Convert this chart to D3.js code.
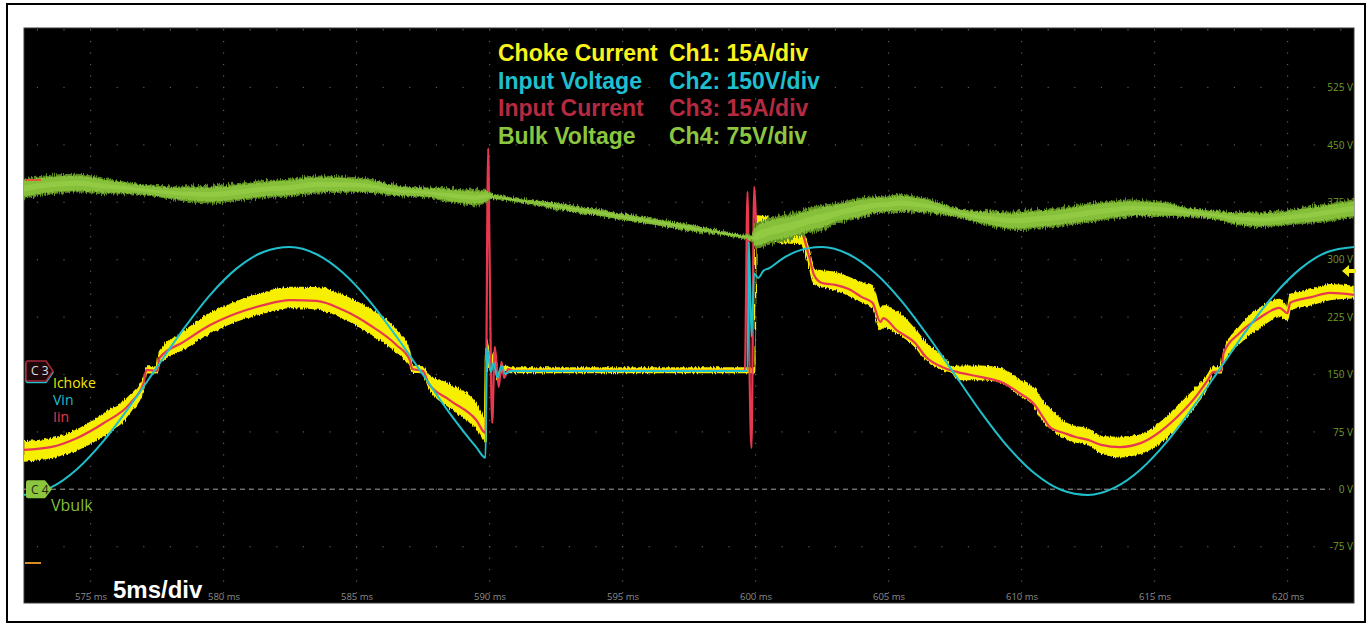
<!DOCTYPE html>
<html>
<head>
<meta charset="utf-8">
<script src="https://cdn.jsdelivr.net/npm/d3@7"></script>
<style>
  html, body { margin: 0; padding: 0; background: #fff; }
  svg { display: block; }
</style>
</head>
<body>
<svg id="scope" width="1370" height="625"></svg>
<script>
// axis ticks
const timeTicks = [575, 580, 585, 590, 595, 600, 605, 610, 615, 620];
const voltTicks = [525, 450, 375, 300, 225, 150, 75, 0, -75];

// legend
const legendNames = ['Choke Current', 'Input Voltage', 'Input Current', 'Bulk Voltage'];
const legendScales = ['Ch1: 15A/div', 'Ch2: 150V/div', 'Ch3: 15A/div', 'Ch4: 75V/div'];
const traceLabels = ['Ichoke', 'Vin', 'Iin'];

// channel scale (units/div) and zero position (div above the Ch4 0 V line)
const chPerDiv = [15, 150, 15, 75];
const chOffset = [2.06, 2.06, 2.06, 0];

// Ch1 choke current: band middle and ripple (A, peak to peak)
const chokeT = [572.5, 573.5, 574.5, 575.5, 576.5, 577.0, 577.1, 577.5, 577.6, 578.5, 579.5, 580.5, 581.5, 582.5, 583.5, 584.5, 585.5, 586.5, 587.0, 587.1, 587.5, 587.7, 588.5, 589.5, 589.85, 589.9, 590.05, 590.15, 590.3, 590.5, 590.8, 599.98, 600.02, 601.0, 601.7, 602.0, 602.2, 603.0, 604.0, 604.4, 604.7, 604.8, 605.3, 606.0, 606.4, 607.1, 607.4, 607.6, 608.5, 609.3, 609.9, 610.5, 610.8, 611.1, 611.6, 612.0, 612.5, 613.0, 613.7, 614.5, 615.2, 616.0, 616.6, 617.0, 617.2, 617.5, 617.6, 618.2, 619.0, 619.7, 620.0, 620.1, 620.9, 621.6, 622.5];
const chokeMid = [-21.0, -20.2, -18.0, -14.0, -8.6, -3.3, 0.3, 0.3, 3.6, 8.0, 12.5, 15.6, 17.8, 19.2, 19.0, 16.8, 13.0, 7.8, 3.3, 0.5, 0.3, -2.5, -6.5, -11.8, -15.5, 7.3, 0.5, 4.0, -1.5, 0.8, 0.2, 0.2, 37.5, 36.3, 35.0, 30.0, 24.6, 23.5, 20.6, 19.5, 13.5, 14.3, 12.8, 8.6, 5.2, 1.8, 0.3, -0.5, -0.5, -1.3, -4.2, -7.1, -10.5, -12.5, -15.4, -16.5, -17.2, -19.3, -19.9, -19.1, -16.2, -11.0, -6.3, -2.6, 0.3, 0.3, 3.7, 9.4, 14.1, 16.5, 15.1, 18.0, 19.3, 20.6, 20.6];
const chokeRip = [5.0, 4.8, 5.2, 5.5, 4.5, 3.0, 1.5, 1.5, 3.0, 4.5, 5.0, 5.0, 5.2, 5.2, 5.5, 5.8, 6.2, 5.5, 3.5, 1.5, 1.5, 3.0, 6.0, 6.5, 6.0, 2.0, 1.5, 1.5, 1.5, 1.2, 1.2, 1.2, 6.0, 5.5, 3.5, 4.0, 3.9, 4.4, 5.0, 5.5, 5.5, 5.5, 5.5, 4.4, 4.4, 3.1, 1.5, 3.4, 3.4, 3.4, 3.9, 4.4, 5.0, 5.0, 4.0, 4.0, 4.0, 4.2, 5.0, 4.7, 5.2, 5.2, 4.2, 3.1, 1.5, 1.5, 2.6, 4.2, 5.0, 4.4, 3.4, 3.9, 3.9, 3.9, 2.9];

// Ch2 input voltage (V)
const vinT = [572.5, 573.5, 574.5, 575.5, 576.5, 577.5, 578.5, 579.5, 580.5, 581.5, 582.5, 583.5, 584.5, 585.5, 586.5, 587.5, 588.5, 589.5, 589.85, 589.9, 590.05, 590.15, 590.3, 590.45, 590.6, 590.8, 599.7, 599.75, 599.85, 599.95, 600.1, 600.3, 600.5, 601.0, 601.5, 602.0, 602.5, 603.5, 604.5, 605.5, 606.5, 607.5, 608.5, 609.5, 610.5, 611.5, 612.5, 613.5, 614.5, 615.5, 616.5, 617.5, 618.5, 619.5, 620.5, 621.5, 622.5];
const vinV = [-324, -305, -256, -182, -90, 10, 110, 199, 268, 311, 324, 305, 256, 182, 90, -10, -110, -199, -227, 63, -3, 21, -18, 13, -8, 0, 0, 337, 90, 255, 243, 262, 268, 293, 311, 321, 324, 305, 256, 182, 90, -10, -110, -199, -268, -311, -324, -305, -256, -182, -90, 10, 110, 199, 268, 311, 324];

// Ch3 input current (A)
const iinT = [572.5, 573.5, 574.5, 575.5, 576.5, 577.0, 577.1, 577.5, 577.6, 578.5, 579.5, 580.5, 581.5, 582.5, 583.5, 584.5, 585.5, 586.5, 587.0, 587.1, 587.5, 587.7, 588.5, 589.5, 589.85, 589.95, 590.0, 590.1, 590.2, 590.35, 590.45, 590.55, 590.7, 590.9, 599.6, 599.7, 599.78, 599.85, 599.95, 600.05, 601.0, 601.7, 602.0, 602.2, 602.5, 603.0, 603.5, 604.0, 604.4, 604.7, 604.8, 605.3, 606.0, 606.4, 607.1, 607.6, 608.5, 609.3, 609.9, 610.5, 610.8, 611.1, 611.6, 612.0, 612.5, 613.0, 613.7, 614.5, 615.2, 616.0, 616.6, 617.0, 617.2, 617.5, 617.6, 618.2, 619.0, 619.7, 620.0, 620.1, 620.9, 621.6, 622.5];
const iinA = [-20.6, -19.9, -17.5, -13.6, -8.4, -3.1, 0.3, 0, 3.4, 7.6, 12.0, 15.1, 17.2, 18.5, 18.3, 15.9, 12.0, 6.8, 2.9, 0.5, 0, -3.1, -7.6, -12.8, -16.2, 58.2, 31.6, -13.6, 6.3, -4.2, 2.4, -1.8, 0.5, 0, 0, 46.8, -2, -20.1, 48.1, 36.3, 36.3, 36.3, 30.3, 25.1, 23.0, 22.5, 21.4, 19.3, 17.8, 12.8, 13.8, 10.7, 7.3, 3.7, 0.8, -0.3, -1.6, -3.1, -5.7, -8.9, -12.0, -14.9, -16.2, -17.2, -18.0, -19.3, -19.9, -18.8, -15.9, -11.0, -6.3, -2.4, -0.3, 0, 4.7, 9.9, 14.1, 16.5, 15.1, 17.8, 19.3, 20.4, 19.9];

// Ch4 bulk voltage: band middle and ripple (V, peak to peak)
const bulkT = [572.5, 573.5, 574.5, 575.5, 576.5, 577.5, 578.5, 579.5, 580.5, 581.5, 582.5, 583.5, 584.5, 585.5, 586.5, 587.5, 588.5, 589.5, 589.9, 590.0, 592.5, 595.0, 597.5, 599.9, 600.0, 600.5, 601.0, 601.5, 602.0, 602.5, 603.0, 603.5, 604.0, 604.5, 605.0, 605.5, 606.0, 606.5, 607.0, 607.5, 608.0, 608.5, 609.0, 609.5, 610.0, 610.5, 611.0, 611.5, 612.5, 613.5, 614.0, 614.5, 615.5, 616.0, 616.5, 617.0, 617.5, 618.0, 618.5, 619.0, 619.5, 620.0, 620.5, 621.0, 622.5];
const bulkMid = [393, 398, 400, 396, 393, 389, 386, 385, 388, 392, 394, 398, 398, 396, 390, 388, 384, 381, 383, 383, 370, 356, 342, 328, 330, 337, 341, 345, 351, 355, 360, 364, 368, 371, 372, 374, 372, 370, 366, 362, 358, 355, 353, 351, 351, 353, 354, 356, 361, 365, 367, 367, 365, 363, 361, 359, 357, 354, 353, 352, 353, 355, 357, 359, 367];
const bulkRip = [25, 24, 23, 20, 14, 13, 18, 22, 22, 22, 22, 22, 20, 17, 13, 11, 17, 19, 15, 7, 7, 7, 7, 7, 30, 34, 34, 33, 32, 32, 26, 26, 25, 22, 22, 22, 20, 18, 14, 10, 12, 16, 20, 22, 24, 24, 24, 24, 24, 23, 22, 20, 18, 13, 10, 10, 11, 15, 18, 18, 18, 19, 20, 22, 22];

const W = 1370, H = 625;
const plot = { left: 24, right: 1354, top: 28, bottom: 603 };

const svg = d3.select('#scope');

const x = d3.scaleLinear().domain([572.5, 622.5]).range([plot.left, plot.right]);
// vertical position in divisions, 0 = Ch4 zero line
const yDiv = d3.scaleLinear().domain([-2, 8]).range([604, 30]);
const yV = d3.scaleLinear().domain([-150, 600]).range([604, 30]);
const yCh = (ch, v) => yDiv(chOffset[ch] + v / chPerDiv[ch]);

// outer frame
svg.append('rect')
  .attr('x', 7).attr('y', 4).attr('width', 1358).attr('height', 618)
  .attr('fill', '#fff').attr('stroke', '#000').attr('stroke-width', 2);

const defs = svg.append('defs');
defs.append('clipPath').attr('id', 'clip')
  .append('rect')
  .attr('x', plot.left).attr('y', plot.top)
  .attr('width', plot.right - plot.left).attr('height', plot.bottom - plot.top);

function roughFilter(id, scale, seed) {
  const f = defs.append('filter').attr('id', id)
    .attr('filterUnits', 'userSpaceOnUse')
    .attr('x', 0).attr('y', 0).attr('width', W).attr('height', H);
  f.append('feTurbulence').attr('type', 'fractalNoise')
    .attr('baseFrequency', '0.9 0.04').attr('numOctaves', 1).attr('seed', seed).attr('result', 'n');
  f.append('feDisplacementMap').attr('in', 'SourceGraphic').attr('in2', 'n')
    .attr('scale', scale).attr('xChannelSelector', 'A').attr('yChannelSelector', 'G');
}
roughFilter('roughGreen', 10, 4);
roughFilter('roughYellow', 5, 7);

// screen
svg.append('rect')
  .attr('x', plot.left).attr('y', plot.top)
  .attr('width', plot.right - plot.left).attr('height', plot.bottom - plot.top)
  .attr('fill', '#000').attr('stroke', '#3a3a3a').attr('stroke-width', 1);

// graticule dots
const grid = svg.append('g').attr('fill', '#5a5a5a');
const minorT = d3.range(573, 623, 1);
const minorV = d3.range(-135, 600, 15);
const rowV = d3.range(-75, 600, 75);
timeTicks.forEach(t => {
  minorV.forEach(v => {
    grid.append('rect').attr('x', x(t) - 0.5).attr('y', yV(v) - 0.5).attr('width', 1.2).attr('height', 1.2);
  });
});
rowV.forEach(v => {
  minorT.forEach(t => {
    grid.append('rect').attr('x', x(t) - 0.5).attr('y', yV(v) - 0.5).attr('width', 1.2).attr('height', 1.2);
  });
});
minorT.forEach(t => {
  grid.append('rect').attr('x', x(t) - 0.5).attr('y', plot.top + 1).attr('width', 1.2).attr('height', 1.5);
});

// 0 V reference
svg.append('line')
  .attr('x1', plot.left).attr('x2', 1330)
  .attr('y1', yV(0)).attr('y2', yV(0))
  .attr('stroke', '#a0a0a0').attr('stroke-width', 1)
  .attr('stroke-dasharray', '5,4');

// axis labels
const vAxis = svg.append('g')
  .attr('transform', `translate(${plot.right - 1},0)`)
  .call(d3.axisLeft(yV).tickValues(voltTicks).tickSize(0).tickPadding(0).tickFormat(d => d + ' V'));
vAxis.select('.domain').remove();
vAxis.selectAll('text')
  .attr('fill', '#6f9a2c').style('font-family', '"Open Sans", sans-serif').style('font-size', '10px');

const tAxis = svg.append('g')
  .attr('transform', `translate(0,${plot.bottom - 10})`)
  .call(d3.axisBottom(x).tickValues(timeTicks).tickSize(0).tickPadding(0).tickFormat(d => d + ' ms'));
tAxis.select('.domain').remove();
tAxis.selectAll('text')
  .attr('fill', '#8c8c8c').style('font-family', '"Open Sans", sans-serif').style('font-size', '9.5px');

// traces
const traces = svg.append('g').attr('clip-path', 'url(#clip)');

const chokeData = d3.zip(chokeT, chokeMid, chokeRip);
const bulkData = d3.zip(bulkT, bulkMid, bulkRip);
const vinData = d3.zip(vinT, vinV);
const iinData = d3.zip(iinT, iinA);

function band(ch, frac) {
  return d3.area()
    .x(d => x(d[0]))
    .y0(d => yCh(ch, d[1] - d[2] * frac / 2))
    .y1(d => yCh(ch, d[1] + d[2] * frac / 2))
    .curve(d3.curveMonotoneX);
}

traces.append('path').datum(chokeData)
  .attr('d', band(0, 1)).attr('fill', '#f7ef00')
  .attr('stroke', '#f7ef00').attr('stroke-width', 1.5)
  .attr('filter', 'url(#roughYellow)');

traces.append('path').datum(iinData)
  .attr('d', d3.line().x(d => x(d[0])).y(d => yCh(2, d[1])).curve(d3.curveMonotoneX))
  .attr('fill', 'none').attr('stroke', '#e8384f').attr('stroke-width', 2.2)
  .attr('stroke-linejoin', 'round');

traces.append('path').datum(bulkData)
  .attr('d', band(3, 1)).attr('fill', '#5f8f20')
  .attr('stroke', '#5f8f20').attr('stroke-width', 1)
  .attr('filter', 'url(#roughGreen)');
traces.append('path').datum(bulkData)
  .attr('d', band(3, 0.75)).attr('fill', '#86c03a')
  .attr('stroke', '#86c03a').attr('stroke-width', 1.5)
  .attr('filter', 'url(#roughYellow)');
traces.append('path').datum(bulkData)
  .attr('d', band(3, 0.3)).attr('fill', '#93ca44');

traces.append('path').datum(vinData)
  .attr('d', d3.line().x(d => x(d[0])).y(d => yCh(1, d[1])).curve(d3.curveMonotoneX))
  .attr('fill', 'none').attr('stroke', '#1fbfcc').attr('stroke-width', 2);

// small offset marks
svg.append('line').attr('x1', 25).attr('x2', 41).attr('y1', 180).attr('y2', 180)
  .attr('stroke', '#e4553c').attr('stroke-width', 2);
svg.append('line').attr('x1', 25).attr('x2', 41).attr('y1', 563).attr('y2', 563)
  .attr('stroke', '#d8892a').attr('stroke-width', 2);

// trigger arrow
svg.append('path')
  .attr('d', 'M1342,271 L1349,265 L1349,269 L1356,269 L1356,273 L1349,273 L1349,277 Z')
  .attr('fill', '#f5ee10');

// channel markers
function marker(x0, yc, w, h) {
  return `M${x0 + 2},${yc - h / 2} H${x0 + w - 7} L${x0 + w},${yc} L${x0 + w - 7},${yc + h / 2} H${x0 + 2} Q${x0},${yc + h / 2} ${x0},${yc + h / 2 - 2} V${yc - h / 2 + 2} Q${x0},${yc - h / 2} ${x0 + 2},${yc - h / 2} Z`;
}
const y3 = yCh(2, 0);
svg.append('path').attr('d', marker(26, y3 + 1.5, 27, 20))
  .attr('fill', 'none').attr('stroke', '#1fbfcc').attr('stroke-width', 1.5);
svg.append('path').attr('d', marker(26, y3, 27, 20))
  .attr('fill', '#1e070b').attr('stroke', '#a3293b').attr('stroke-width', 1.5);
svg.append('text').attr('x', 31).attr('y', y3 + 4.5).text('C 3')
  .attr('fill', '#e0e0e0').style('font-family', '"Open Sans", sans-serif').style('font-size', '12px');

const y4 = yV(0);
svg.append('path').attr('d', marker(26, y4, 26, 18)).attr('fill', '#8cc63f');
svg.append('text').attr('x', 31).attr('y', y4 + 4.5).text('C 4')
  .attr('fill', '#1e2a10').style('font-family', '"Open Sans", sans-serif').style('font-size', '12px');

// trace names
const nameColors = ['#f2e600', '#1fbfcc', '#e8384f'];
traceLabels.forEach((s, i) => {
  svg.append('text').attr('x', 53).attr('y', 388 + i * 17).text(s)
    .attr('fill', nameColors[i]).style('font-family', '"Open Sans", sans-serif').style('font-size', '14px');
});
svg.append('text').attr('x', 51).attr('y', 511).text('Vbulk')
  .attr('fill', '#86be3a').style('font-family', '"Open Sans", sans-serif').style('font-size', '16px');

// legend block
const legendColors = ['#f9f31b', '#1fbfcf', '#b52a40', '#8cc63f'];
legendNames.forEach((s, i) => {
  const yy = 61 + i * 27.5;
  svg.append('text').attr('x', 498).attr('y', yy).text(s)
    .attr('fill', legendColors[i]).style('font-family', '"Liberation Sans", Arial, sans-serif')
    .style('font-weight', 'bold').style('font-size', '23px');
  svg.append('text').attr('x', 669).attr('y', yy).text(legendScales[i])
    .attr('fill', legendColors[i]).style('font-family', '"Liberation Sans", Arial, sans-serif')
    .style('font-weight', 'bold').style('font-size', '23px');
});

svg.append('text').attr('x', 113).attr('y', 598).text('5ms/div')
  .attr('fill', '#fff').style('font-family', '"Liberation Sans", Arial, sans-serif')
  .style('font-weight', 'bold').style('font-size', '24px');
</script>
</body>
</html>
